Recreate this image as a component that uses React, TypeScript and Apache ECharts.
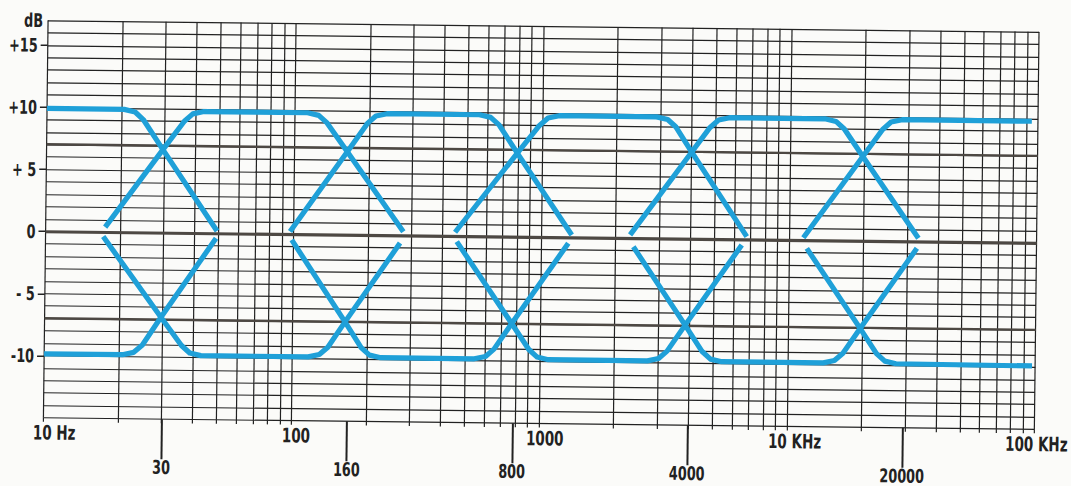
import React, { useEffect, useRef } from "react";
import * as echarts from "echarts";

// ---- data ----
// frequency (Hz), gain (dB)
const upper0: number[][] = [[10, 9.9], [20.5, 9.9], [22.7, 9.7], [24.5, 9.1], [29.5, 6.7], [49.2, 0.2]];
const upper1: number[][] = [[17.4, 0.4], [29.5, 6.7], [35.9, 9.0], [38.8, 9.6], [43.0, 9.8], [112.7, 9.8], [125, 9.6], [135.2, 9.0], [163.7, 6.7], [277.9, 0.32]];
const upper2: number[][] = [[97, 0.22], [163.7, 6.7], [196.7, 9.0], [212.7, 9.6], [235.9, 9.8], [557, 9.8], [617.9, 9.6], [668.1, 9.0], [794.3, 6.75], [1329, 0.21]];
const upper3: number[][] = [[449.4, 0.32], [794.3, 6.75], [973.4, 9.0], [1052.7, 9.6], [1167.6, 9.8], [2885, 9.8], [3200, 9.6], [3460, 9.0], [4015, 7.0], [6756, 0.24]];
const upper4: number[][] = [[2285, 0.27], [4015, 7.0], [4748, 9.0], [5135, 9.6], [5695, 9.8], [13780, 9.8], [15290, 9.6], [16530, 9.0], [19690, 6.8], [33290, 0.27]];
const upper5: number[][] = [[11430, 0.21], [19690, 6.8], [23600, 9.0], [25510, 9.6], [28290, 9.8], [94300, 9.8]];

const lower0: number[][] = [[10, -9.85], [20.7, -9.85], [23.0, -9.65], [24.9, -9.05], [29.5, -6.8], [48.8, -0.39]];
const lower1: number[][] = [[17.1, -0.35], [29.5, -6.8], [35.8, -9.05], [38.7, -9.65], [42.9, -9.85], [116.3, -9.85], [129, -9.65], [139.5, -9.05], [163.2, -7.0], [269.8, -0.6]];
const lower2: number[][] = [[98.6, -0.45], [163.2, -7.0], [190.1, -9.05], [205.6, -9.65], [228, -9.85], [544.6, -9.85], [604.1, -9.65], [653.3, -9.05], [768, -6.97], [1288, -0.46]];
const lower3: number[][] = [[456.9, -0.43], [768, -6.97], [903, -9.05], [976.5, -9.65], [1083, -9.85], [2720, -9.85], [3016, -9.65], [3262, -9.05], [3847, -6.94], [6455, -0.44]];
const lower4: number[][] = [[2358, -0.68], [3847, -6.94], [4520, -9.05], [4887, -9.65], [5422, -9.85], [13940, -9.85], [15460, -9.65], [16720, -9.05], [19560, -7.04], [32860, -0.54]];
const lower5: number[][] = [[11820, -0.65], [19560, -7.04], [22840, -9.05], [24700, -9.65], [27390, -9.85], [97000, -9.9]];

const curves = [upper0, upper1, upper2, upper3, upper4, upper5, lower0, lower1, lower2, lower3, lower4, lower5];

// vertical grid lines of the log paper
const gridFreqs = [
  10, 20, 30, 40, 50, 60, 70, 80, 90,
  100, 200, 300, 400, 500, 600, 700, 800, 900,
  1000, 2000, 3000, 4000, 5000, 6000, 7000, 8000, 9000,
  10000, 20000, 30000, 40000, 50000, 60000, 70000, 80000, 90000,
  100000,
];
const heavyLevels = [7, 0, -7];

const yTickValues = [15, 10, 5, 0, -5, -10];
const yTickLabels = ["+15", "+10", "+ 5", "0", "- 5", "-10"];

const decadeFreqs = [10, 100, 1000, 10000, 100000];
const decadeLabels = ["10 Hz", "100", "1000", "10 KHz", "100 KHz"];

const bandTickFreqs = [30, 168, 780, 3970, 29250];
const bandTickLabels = ["30", "160", "800", "4000", "20000"];

// ---- styling ----
const FONT = '"Liberation Sans Narrow", "DejaVu Sans Condensed", "Arial Narrow", sans-serif';
const INK = "#222222";
const BLUE = "#1fa0d8";
const NARROW = 0.75;
const decadeLabelDx = [11, 5, 6, 8, 2];

function label(x: number, y: number, text: string, size: number, align: string) {
  return {
    type: "text",
    silent: true,
    x,
    y,
    scaleX: NARROW,
    style: {
      text,
      fontFamily: FONT,
      fontWeight: "bold",
      fontSize: size,
      fill: INK,
      align,
      verticalAlign: "middle",
      textAlign: align,
      textVerticalAlign: "middle",
    },
  };
}

export default function App() {
  const ref = useRef<HTMLDivElement>(null);

  useEffect(() => {
    if (!ref.current) return;
    const chart = echarts.init(ref.current, undefined, { renderer: "svg" });

    const curveSeries = curves.map((d, i) => ({
      type: "line",
      name: "c" + i,
      data: d,
      xAxisIndex: 0,
      yAxisIndex: 0,
      showSymbol: false,
      symbol: "none",
      silent: true,
      z: 10,
      lineStyle: { color: BLUE, width: 5.2, cap: "butt", join: "round" },
    }));

    const option: any = {
      animation: false,
      grid: { left: 45.4, top: 26, width: 991.3, height: 397.5, containLabel: false },
      xAxis: [
        {
          type: "log",
          logBase: 10,
          min: 10,
          max: 100000,
          position: "bottom",
          axisLine: { show: false, onZero: false },
          splitLine: { show: false },
          minorTick: { show: false },
          axisTick: {
            show: true,
            customValues: gridFreqs,
            length: 4,
            lineStyle: { color: INK, width: 1.2 },
          },
          axisLabel: { show: false },
        },
        {
          type: "log",
          logBase: 10,
          min: 10,
          max: 100000,
          position: "bottom",
          axisLine: { show: false, onZero: false },
          splitLine: { show: false },
          axisTick: {
            show: true,
            customValues: bandTickFreqs,
            length: 40,
            lineStyle: { color: INK, width: 2 },
          },
          axisLabel: { show: false },
        },
      ],
      yAxis: [
        {
          type: "value",
          min: -15,
          max: 17,
          interval: 1,
          axisLine: { show: false, onZero: false },
          axisTick: { show: false },
          axisLabel: { show: false },
          splitLine: { show: true, lineStyle: { color: INK, width: 1.2 } },
        },
        {
          type: "value",
          min: -15,
          max: 17,
          position: "left",
          axisLine: { show: false, onZero: false },
          splitLine: { show: false },
          axisTick: {
            show: true,
            customValues: yTickValues,
            length: 7,
            lineStyle: { color: INK, width: 1.6 },
          },
          axisLabel: { show: false },
        },
      ],
      series: [
        {
          type: "line",
          name: "paper",
          data: [],
          xAxisIndex: 0,
          yAxisIndex: 0,
          silent: true,
          z: 1,
          markLine: {
            silent: true,
            z: 1,
            symbol: ["none", "none"],
            label: { show: false },
            animation: false,
            data: [
              ...gridFreqs.map((f) => ({ xAxis: f, lineStyle: { color: INK, width: 1.2, type: "solid" } })),
              ...heavyLevels.map((v) => ({
                yAxis: v,
                lineStyle: { color: "#4d4843", width: v === 0 ? 3.2 : 2.4, type: "solid" },
              })),
            ],
          },
        },
        ...curveSeries,
      ],
    };

    chart.setOption(option);

    const px = (f: number) => chart.convertToPixel({ xAxisIndex: 0 }, f) as number;
    const py = (v: number) => chart.convertToPixel({ yAxisIndex: 0 }, v) as number;
    const yBottom = py(-15);
    const xLeft = px(10);

    const graphics: any[] = [];
    yTickValues.forEach((v, i) => graphics.push(label(xLeft - 10, py(v), yTickLabels[i], 19, "right")));
    graphics.push(label(xLeft - 5, py(17), "dB", 19, "right"));
    decadeFreqs.forEach((f, i) => graphics.push(label(px(f) + decadeLabelDx[i], yBottom + 15, decadeLabels[i], 20, "center")));
    bandTickFreqs.forEach((f, i) => graphics.push(label(px(f), yBottom + 48, bandTickLabels[i], 19, "center")));
    chart.setOption({ graphic: graphics });

    return () => chart.dispose();
  }, []);

  return (
    <div
      style={{
        position: "fixed",
        left: 0,
        top: 0,
        width: 1071,
        height: 486,
        background: "#fbfbf9",
        overflow: "hidden",
      }}
    >
      <div
        ref={ref}
        style={{
          position: "absolute",
          left: 0,
          top: 0,
          width: 1071,
          height: 486,
          transform: "rotate(0.67deg)",
          transformOrigin: "535.5px 243px",
        }}
      />
    </div>
  );
}
